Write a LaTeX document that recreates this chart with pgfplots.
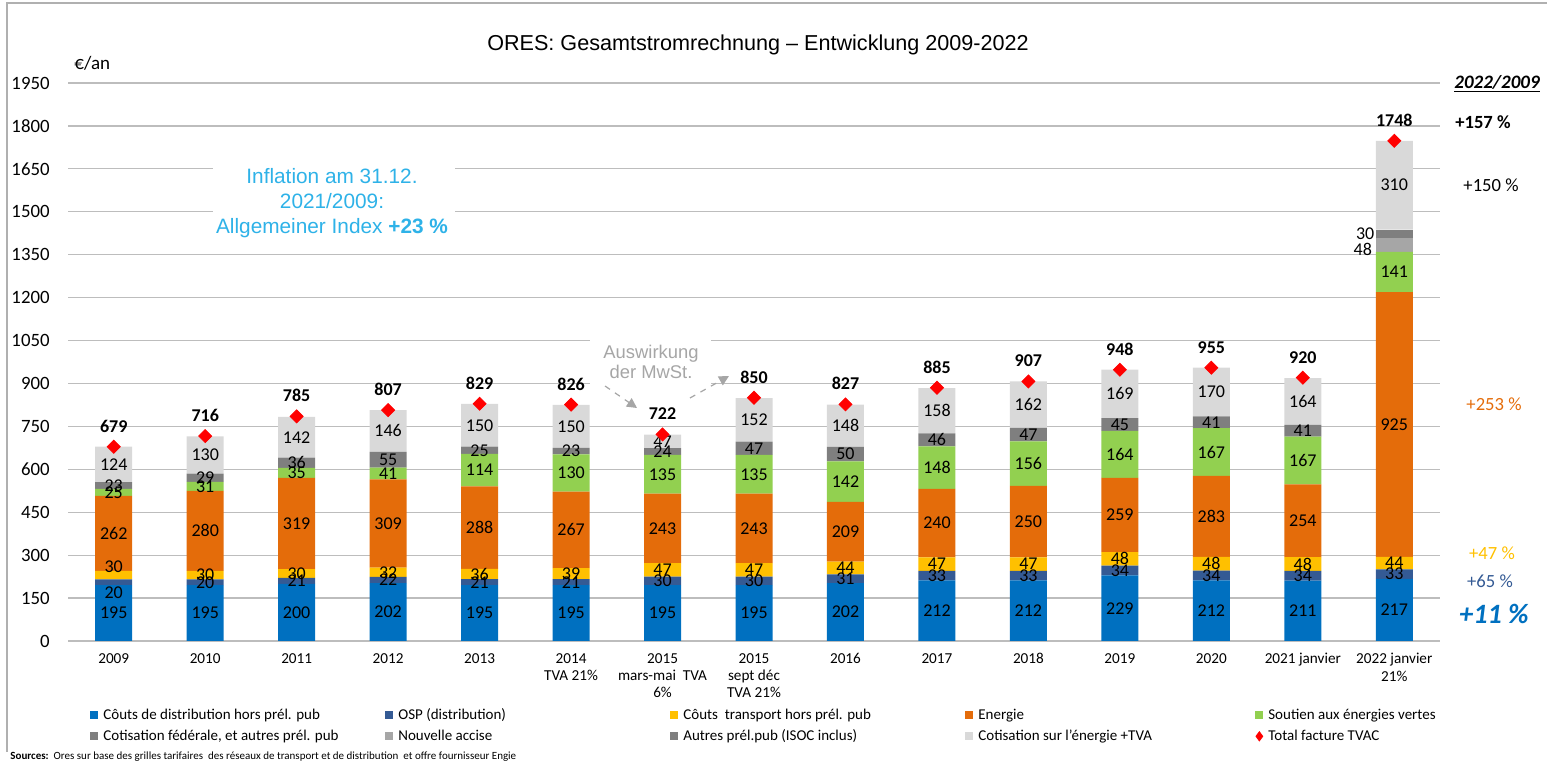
\documentclass[border=0pt]{standalone}
\usepackage{fontspec}
\setmainfont{Carlito}
\newfontfamily\arial{Liberation Sans}
\usepackage{pgfplots}
\pgfplotsset{compat=1.18}
\usepackage{pgfplotstable}
\usetikzlibrary{arrows.meta}

\definecolor{cdist}{HTML}{0070C0}
\definecolor{cosp}{HTML}{345A94}
\definecolor{ctrans}{HTML}{FFC000}
\definecolor{cener}{HTML}{E46C0A}
\definecolor{csout}{HTML}{92D050}
\definecolor{cfed}{HTML}{7F7F7F}
\definecolor{cacc}{HTML}{A6A6A6}
\definecolor{caut}{HTML}{7F7F7F}
\definecolor{ccot}{HTML}{D9D9D9}
\definecolor{gridc}{HTML}{BDBDBD}
\definecolor{framec}{HTML}{B0B0B0}
\definecolor{infl}{HTML}{2EB2E8}
\definecolor{auswc}{HTML}{A6A6A6}

\pgfplotstableread{
x d o t e s f a p c T oo to
0 195 20 30 262 25 23 0 0 124 679 -37 29
1 195 20 30 280 31 29 0 0 130 716 0 0
2 200 21 30 319 35 36 0 0 142 785 0 0
3 202 22 32 309 41 55 0 0 146 807 0 0
4 195 21 36 288 114 25 0 0 150 829 0 0
5 195 21 39 267 130 23 0 0 150 826 0 0
6 195 30 47 243 135 24 0 0 47 722 0 0
7 195 30 47 243 135 47 0 0 152 850 0 0
8 202 31 44 209 142 50 0 0 148 827 0 0
9 212 33 47 240 148 46 0 0 158 885 0 0
10 212 33 47 250 156 47 0 0 162 907 0 0
11 229 34 48 259 164 45 0 0 169 948 0 0
12 212 34 48 283 167 41 0 0 170 955 0 0
13 211 34 48 254 167 41 0 0 164 920 0 0
14 217 33 44 925 141 0 48 30 310 1748 0 0
}\data

\newcommand\lbl{\pgfmathfloatifflags{\pgfplotspointmeta}{0}{}{\pgfmathprintnumber{\pgfplotspointmeta}}}

\pgfplotsset{
  lbl/.style={draw=none, mark=none,
    nodes near coords=\lbl,
    every node near coord/.style={anchor=center, inner sep=0pt, font=\fontsize{9}{10}\selectfont, text=black}},
  geom/.style={at={(34pt,-320.5pt)}, anchor=south west, scale only axis,
    width=686pt, height=279pt, xmin=-0.5, xmax=14.5, ymin=0, ymax=1950,
    /pgf/number format/1000 sep={},
    /pgf/number format/assume math mode=true},
}

\begin{document}
\begin{tikzpicture}
\path[use as bounding box] (0,0) rectangle (773.5pt,-381.5pt);

\begin{axis}[geom,
  ybar stacked, bar width=18.5pt,
  ytick={0,150,...,1950},
  xtick={0,...,14},
  xticklabels={2009,2010,2011,2012,2013,{2014\\TVA 21\%},{2015\\mars-mai\ \ TVA\\6\%},{2015\\sept déc\\TVA 21\%},2016,2017,2018,2019,2020,2021 janvier,{2022 janvier\\21\%}},
  ymajorgrids, grid style={color=gridc, line width=0.6pt},
  axis line style={draw=none},
  major tick length=0pt,
  yticklabel style={font=\fontsize{9.4}{11}\selectfont, anchor=east, inner sep=0pt, xshift=-9pt},
  xticklabel style={font=\fontsize{7.6}{8.6}\selectfont, align=center, anchor=north, inner sep=0pt, yshift=-6pt},
  legend columns=5,
  legend cell align=left,
  legend image code/.code={\fill[#1] (0pt,-2pt) rectangle (4pt,2pt);},
  legend style={at={(0.016,-0.12)}, anchor=north west, draw=none, fill=none,
    font=\fontsize{7.5}{9}\selectfont, inner sep=0pt, row sep=3.5pt,
    nodes={inner sep=0pt},
    /tikz/every odd column/.append style={column sep=2.5pt}},
]
\addplot[fill=cdist, draw=none] table[x=x,y=d]{\data};
\addlegendentry{\makebox[141pt][l]{Côuts de distribution hors prél. pub}}
\addplot[fill=cosp, draw=none] table[x=x,y=o]{\data};
\addlegendentry{\makebox[136pt][l]{OSP (distribution)}}
\addplot[fill=ctrans, draw=none] table[x=x,y=t]{\data};
\addlegendentry{\makebox[141pt][l]{Côuts\ \ transport hors prél. pub}}
\addplot[fill=cener, draw=none] table[x=x,y=e]{\data};
\addlegendentry{\makebox[138.5pt][l]{Energie}}
\addplot[fill=csout, draw=none] table[x=x,y=s]{\data};
\addlegendentry{Soutien aux énergies vertes}
\addplot[fill=cfed, draw=none] table[x=x,y=f]{\data};
\addlegendentry{Cotisation fédérale, et autres prél. pub}
\addplot[fill=cacc, draw=none] table[x=x,y=a]{\data};
\addlegendentry{Nouvelle accise}
\addplot[fill=caut, draw=none] table[x=x,y=p]{\data};
\addlegendentry{Autres prél.pub (ISOC inclus)}
\addplot[fill=ccot, draw=none] table[x=x,y=c]{\data};
\addlegendentry{Cotisation sur l'énergie +TVA}
\addlegendimage{legend image code/.code={\fill[red] (2pt,-2.3pt) -- (3.7pt,0pt) -- (2pt,2.3pt) -- (0.3pt,0pt) -- cycle;}}
\addlegendentry{Total facture TVAC}
\end{axis}

\begin{axis}[geom, hide axis, clip=false]
\addplot[lbl, point meta=\thisrow{d}] table[x=x, y expr=\thisrow{d}/2]{\data};
\addplot[lbl, point meta=\thisrow{o}] table[x=x, y expr=\thisrow{d}+\thisrow{o}/2+\thisrow{oo}]{\data};
\addplot[lbl, point meta=\thisrow{t}] table[x=x, y expr=\thisrow{d}+\thisrow{o}+\thisrow{t}/2+\thisrow{to}]{\data};
\addplot[lbl, point meta=\thisrow{e}] table[x=x, y expr=\thisrow{d}+\thisrow{o}+\thisrow{t}+\thisrow{e}/2]{\data};
\addplot[lbl, point meta=\thisrow{s}] table[x=x, y expr=\thisrow{d}+\thisrow{o}+\thisrow{t}+\thisrow{e}+\thisrow{s}/2]{\data};
\addplot[lbl, point meta=\thisrow{f}] table[x=x, y expr=\thisrow{d}+\thisrow{o}+\thisrow{t}+\thisrow{e}+\thisrow{s}+\thisrow{f}/2]{\data};
\addplot[lbl, point meta=\thisrow{a}, every node near coord/.append style={anchor=east, xshift=-11pt}] table[x=x, y expr=\thisrow{d}+\thisrow{o}+\thisrow{t}+\thisrow{e}+\thisrow{s}+\thisrow{f}+\thisrow{a}/2-14]{\data};
\addplot[lbl, point meta=\thisrow{p}, every node near coord/.append style={anchor=east, xshift=-9.8pt}] table[x=x, y expr=\thisrow{d}+\thisrow{o}+\thisrow{t}+\thisrow{e}+\thisrow{s}+\thisrow{f}+\thisrow{a}+\thisrow{p}/2]{\data};
\addplot[lbl, point meta=\thisrow{c}] table[x=x, y expr=\thisrow{d}+\thisrow{o}+\thisrow{t}+\thisrow{e}+\thisrow{s}+\thisrow{f}+\thisrow{a}+\thisrow{p}+\thisrow{c}/2]{\data};
\addplot[only marks, mark=square*, mark size=2.3pt, mark options={rotate=45, fill=red, draw=red},
  nodes near coords, point meta=y,
  every node near coord/.style={anchor=south, inner sep=0pt, yshift=7pt, font=\bfseries\fontsize{9}{10}\selectfont, text=black}]
  table[x=x, y=T]{\data};
\end{axis}

\begin{scope}[x=0.5pt,y=-0.5pt]
\draw[framec, line width=0.6pt] (7,752) -- (7,3) -- (1547,3);
\node[font=\arial\fontsize{10.8}{13}\selectfont] at (758,45) {ORES: Gesamtstromrechnung – Entwicklung 2009-2022};
\node[anchor=west, font=\fontsize{9.5}{11}\selectfont, inner sep=0pt] at (74,63) {€/an};
% inflation
\fill[white] (213,160) rectangle (455,242);
\node[align=center, text=infl, font=\arial\fontsize{10.4}{12.6}\selectfont] at (332,203) {Inflation am 31.12.\\2021/2009:\\Allgemeiner Index \textbf{+23 \%}};
% Auswirkung
\fill[white] (590,338) rectangle (711,398);
\node[align=center, text=auswc, font=\arial\fontsize{9.2}{10}\selectfont] at (651,362) {Auswirkung\\der MwSt.};
\draw[auswc, line width=0.6pt, dashed, -{Triangle[length=5pt,width=5pt]}] (605,386) -- (637,408);
\draw[auswc, line width=0.6pt, dashed, -{Triangle[length=5pt,width=5pt]}] (690,398) -- (729,376);
% right annotations
\node[font=\bfseries\itshape\fontsize{9.5}{11}\selectfont] at (1497,84) {\underline{2022/2009}};
\node[font=\bfseries\fontsize{9.3}{11}\selectfont] at (1483,122) {+157 \%};
\node[font=\fontsize{9.3}{11}\selectfont] at (1491,185) {+150 \%};
\node[text=cener, font=\fontsize{9.3}{11}\selectfont] at (1494,404) {+253 \%};
\node[text=ctrans, font=\fontsize{9.3}{11}\selectfont] at (1492,553) {+47 \%};
\node[text=cosp, font=\fontsize{9.3}{11}\selectfont] at (1490,581) {+65 \%};
\node[text=cdist, font=\bfseries\itshape\fontsize{14}{16}\selectfont] at (1494,614) {+11 \%};
% sources
\node[anchor=west, inner sep=0pt, font=\fontsize{5.5}{6.5}\selectfont] at (10,757) {\textbf{Sources:}\ \ Ores sur base des grilles tarifaires\ \ des réseaux de transport et de distribution\ \ et offre fournisseur Engie};
\end{scope}
\end{tikzpicture}
\end{document}
